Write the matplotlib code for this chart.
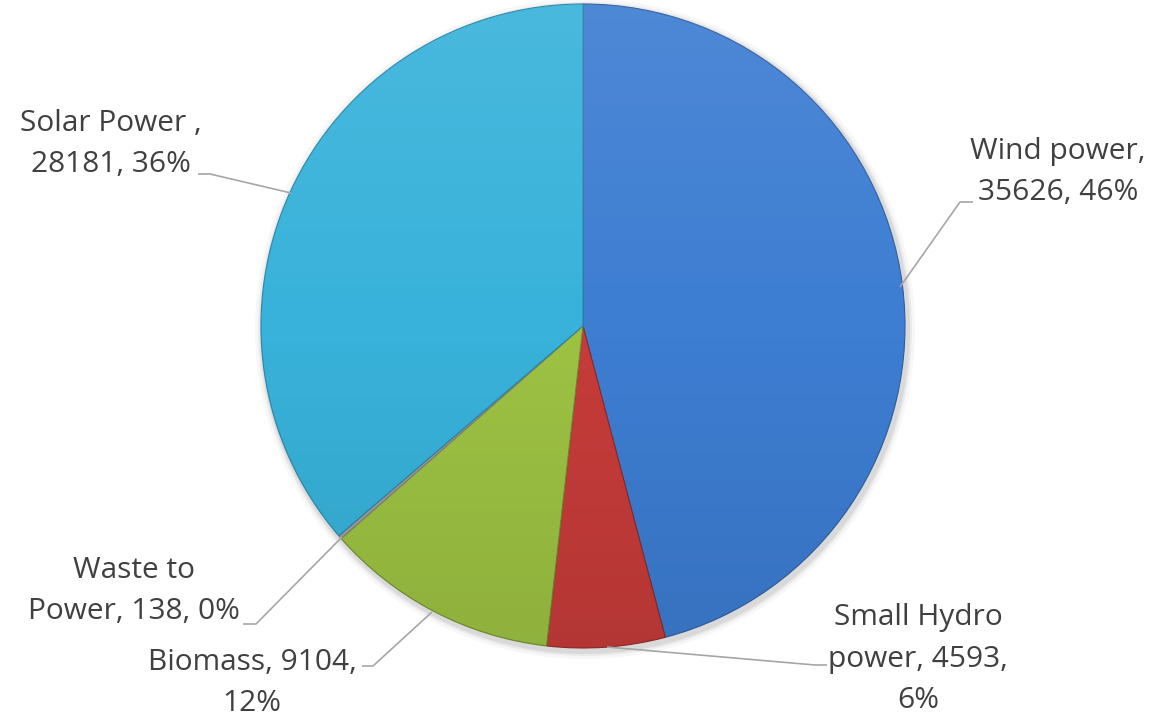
import numpy as np
import matplotlib
matplotlib.use("Agg")
import matplotlib.pyplot as plt
from matplotlib.patches import Circle

categories = ["Wind power", "Small Hydro power", "Biomass", "Waste to Power", "Solar Power "]
values = [35626, 4593, 9104, 138, 28181]
percents = ["46%", "6%", "12%", "0%", "36%"]
colors = ["#3D7DD2", "#C63C3A", "#9DC243", "#A0A0A0", "#38B2DA"]
edgecolors = ["#2E5E9E", "#8E2A28", "#6E8A2E", "#808080", "#2A86A6"]

W, H = 1173, 722
fig = plt.figure(figsize=(W / 100, H / 100), dpi=100)
ax = fig.add_axes([0, 0, 1, 1])
ax.set_xlim(0, W)
ax.set_ylim(0, H)

cx, cy, R = 583, H - 326, 322

# soft shadow
for dr, a in [(8, 0.03), (5, 0.05), (3, 0.07)]:
    ax.add_patch(Circle((cx + 2, cy - 3), R + dr, color="black", alpha=a, lw=0, zorder=0))

wedges, _ = ax.pie(values, colors=colors, startangle=90, counterclock=False,
                   center=(cx, cy), radius=R, frame=False,
                   wedgeprops=dict(linewidth=0.8))
for w, ec in zip(wedges, edgecolors):
    w.set_edgecolor(ec)
    w.set_zorder(1)

# shading overlay: lighter top, darker bottom
n = 256
t = np.linspace(0, 1, n)
grad = np.zeros((n, 2, 4))
rgb = np.where(t > 0.5, 1.0, 0.0)
for k in range(3):
    grad[:, :, k] = rgb[:, None]
grad[:, :, 3] = (np.abs(t - 0.5) * 0.18)[:, None]
im = ax.imshow(grad, extent=(cx - R, cx + R, cy - R, cy + R), origin="lower",
               zorder=2, aspect="auto", interpolation="bilinear")
clip = Circle((cx, cy), R, transform=ax.transData)
im.set_clip_path(clip)

ax.set_xlim(0, W)
ax.set_ylim(0, H)
ax.set_aspect("auto")
ax.axis("off")

txt = dict(fontsize=21.5, color="#404040", ha="center", va="center",
           multialignment="center", linespacing=1.55, family=["Open Sans", "DejaVu Sans"], zorder=5)
lc = dict(color="#A6A6A6", lw=1.2, zorder=4, solid_capstyle="butt")

def Y(p):
    return H - p

labels = [
    (f"Wind power,\n{values[0]}, {percents[0]}", 1058, 172),
    (f"Small Hydro\npower, {values[1]},\n{percents[1]}", 918, 659),
    (f"Biomass, {values[2]},\n{percents[2]}", 252, 683),
    (f"Waste to\nPower, {values[3]}, {percents[3]}", 134, 591),
    (f"Solar Power ,\n{values[4]}, {percents[4]}", 111, 144),
]
for s, x, y in labels:
    ax.text(x, Y(y), s, **txt)

leaders = [
    [(900, 287), (960, 202), (973, 202)],
    [(607, 647), (815, 665), (827, 665)],
    [(432, 612), (373, 666), (362, 666)],
    [(342, 537), (256, 624), (243, 624)],
    [(291, 193), (210, 174), (198, 174)],
]
for pts in leaders:
    xs = [p[0] for p in pts]
    ys = [Y(p[1]) for p in pts]
    ax.plot(xs, ys, **lc)

fig.savefig("out.png", dpi=100, facecolor="white")
